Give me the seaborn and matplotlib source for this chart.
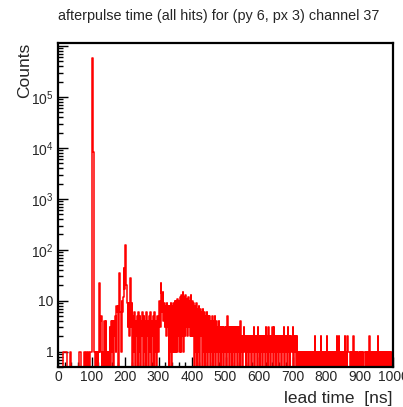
import numpy as np
import pandas as pd
import matplotlib
matplotlib.use("Agg")
import matplotlib.pyplot as plt
import seaborn as sns
from matplotlib.ticker import FixedLocator, FuncFormatter, MultipleLocator

# ---- data: counts per 2 ns bin, one list per 100 ns ----
bin_width = 2
x_min, x_max = 0, 1000

counts_000 = [0,0,0,0,0,0,0,0,1,1, 1,1,1,0,0,0,0,0,1,0, 0,0,0,0,0,0,0,0,0,0,
              0,1,1,1,0,0,0,0,0,1, 1,0,1,1,0,1,1,0,1,1]
counts_100 = [1,580000,8500,78,1,0,1,0,1,0, 1,22,1,4,5,0,1,0,1,4,
              0,4,1,0,1,0,1,3,0,4, 1,4,0,4,2,5,1,8,6,8,
              0,35,24,6,1,10,6,12,44,17]
counts_200 = [125,50,20,9,3,9,2,6,28,3, 9,0,5,1,6,0,4,2,5,0,
              6,1,5,0,4,2,6,0,5,1, 4,0,6,2,4,0,5,1,6,0,
              4,2,5,0,6,1,4,0,5,1]
counts_300 = [2,10,3,22,14,6,15,4,9,3, 8,2,9,3,8,0,8,1,9,0,
              8,1,9,1,10,1,10,1,11,2, 10,1,12,1,13,2,15,1,12,2,
              13,3,11,2,12,3,10,2,13,2]
counts_400 = [10,2,9,0,8,1,9,0,7,1, 8,0,7,2,6,0,7,1,6,0,
              5,1,6,0,5,1,5,0,4,1, 5,0,4,1,5,0,4,1,3,0,
              4,1,3,0,3,1,3,0,3,1]
counts_500 = [3,0,5,1,3,0,3,1,3,0, 3,1,3,0,3,1,3,0,3,1,
              3,0,4,1,2,0,2,3,1,2, 0,2,1,2,0,2,1,2,0,2,
              1,2,3,0,2,1,2,0,3,1]
counts_600 = [2,0,2,1,2,0,2,1,2,0, 3,1,2,0,3,1,2,0,2,1,
              3,0,3,1,2,0,2,1,2,0, 2,1,2,0,2,1,2,3,0,2,
              1,2,0,3,1,2,0,2,1,2]
counts_700 = [3,0,2,1,2,0,2,1,0,1, 0,1,0,1,1,0,1,0,1,0,
              1,0,1,0,1,0,1,0,1,0, 1,0,1,2,0,1,0,1,0,1,
              0,1,2,0,1,0,1,0,1,0]
counts_800 = [1,2,0,1,0,1,0,1,0,1, 0,1,0,1,0,1,2,0,1,2,
              0,1,0,1,0,1,0,1,2,0, 1,0,2,1,1,1,0,1,0,1,
              0,2,1,0,1,0,1,0,1,0]
counts_900 = [1,0,1,0,1,0,1,1,1,0, 1,0,1,0,2,1,0,1,0,1,
              0,1,0,1,0,1,0,2,1,0, 1,0,1,0,1,0,1,0,1,0,
              1,0,1,0,1,0,1,0,1,1]

x_ticks = [0, 100, 200, 300, 400, 500, 600, 700, 800, 900, 1000]
y_decades = [1, 10, 100, 1000, 10000, 100000, 1000000]
y_labels = ["1", "10", "$10^{2}$", "$10^{3}$", "$10^{4}$", "$10^{5}$", ""]

title = "afterpulse time (all hits) for (py 6, px 3) channel 37"
x_title = "lead time  [ns]"
y_title = "Counts"

counts = np.array(counts_000 + counts_100 + counts_200 + counts_300 + counts_400 +
                  counts_500 + counts_600 + counts_700 + counts_800 + counts_900, dtype=float)
centers = np.arange(x_min, x_max, bin_width) + bin_width / 2
df = pd.DataFrame({"lead": centers, "n": counts})

# ---- style ----
sns.set_style("ticks")
plt.rcParams["font.family"] = ["Liberation Sans", "DejaVu Sans"]
plt.rcParams["mathtext.default"] = "regular"

W, H = 403, 407
fig = plt.figure(figsize=(W / 100, H / 100), dpi=100)
fig.patch.set_facecolor("white")
ax = fig.add_axes([58 / W, 1 - 367 / H, (393 - 58) / W, (367 - 43) / H])

sns.histplot(data=df, x="lead", weights="n", binwidth=bin_width,
             binrange=(x_min, x_max), element="step",
             fill=False, color="#ff0000", linewidth=1.1, ax=ax)

ax.set_yscale("log", nonpositive="clip")
ax.set_xlim(x_min, x_max)
ax.set_ylim(0.5, 1.15e6)
ax.set_xlabel("")
ax.set_ylabel("")

ax.xaxis.set_major_locator(FixedLocator(x_ticks))
ax.xaxis.set_minor_locator(MultipleLocator(20))
ax.yaxis.set_major_locator(FixedLocator(y_decades))
ax.yaxis.set_major_formatter(FuncFormatter(
    lambda v, p: y_labels[y_decades.index(v)] if v in y_decades else ""))
ax.yaxis.set_minor_locator(matplotlib.ticker.LogLocator(base=10, subs=np.arange(2, 10)))
ax.yaxis.set_minor_formatter(matplotlib.ticker.NullFormatter())

ax.tick_params(which="both", direction="in", top=False, right=False,
               color="black", width=1.0)
ax.tick_params(which="major", length=7.5, labelsize=10, pad=2.5)
ax.tick_params(which="minor", length=3.8)
ax.tick_params(axis="y", which="major", pad=3.5)

for s in ax.spines.values():
    s.set_linewidth(1.6)
    s.set_color("black")
    s.set_visible(True)

fig.text(219 / W, 1 - 16 / H, title, ha="center", va="center", fontsize=10.4)
fig.text(393 / W, 1 - 398 / H, x_title, ha="right", va="center", fontsize=12.5)
fig.text(25 / W, 1 - 43 / H, y_title, ha="center", va="top", rotation=90, fontsize=12.5)

fig.savefig("out.png", dpi=100, facecolor="white")
